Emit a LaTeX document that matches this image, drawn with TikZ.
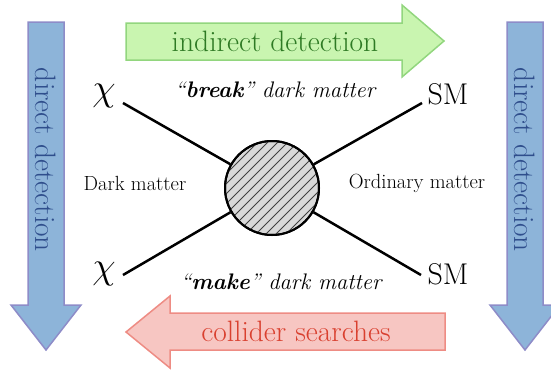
\documentclass[tikz,border=0pt]{standalone}
\usepackage{fix-cm}
\usepackage{fontspec}

\definecolor{ddfill}{HTML}{8DB4D9}
\definecolor{ddedge}{HTML}{8E8CC8}
\definecolor{ddtext}{HTML}{2F4E8C}
\definecolor{idfill}{HTML}{C9F5B0}
\definecolor{idedge}{HTML}{92D67E}
\definecolor{idtext}{HTML}{2E7A24}
\definecolor{csfill}{HTML}{F7C6C2}
\definecolor{csedge}{HTML}{EE8C84}
\definecolor{cstext}{HTML}{D9402F}

\begin{document}
\begin{tikzpicture}[x=1pt,y=-1pt,
  blockarrow/.style={line width=1.5pt},
  leg/.style={line width=2.5pt},
  bigtext/.style={font=\fontsize{29.5}{29.5}\selectfont},
  midtext/.style={font=\fontsize{20.5}{20.5}\selectfont},
  proctext/.style={font=\fontsize{22.5}{22.5}\selectfont\itshape},
  particle/.style={font=\fontsize{30}{30}\selectfont}]
\useasboundingbox (0,0) rectangle (551,370);
\clip (0,0) rectangle (551,370);

% big arrows
\draw[blockarrow,draw=ddedge,fill=ddfill] (28,22)--(64,22)--(64,305)--(81,305)--(46,350)--(11,305)--(28,305)--cycle;
\draw[blockarrow,draw=ddedge,fill=ddfill] (507,22)--(543,22)--(543,305)--(560,305)--(525,350)--(490,305)--(507,305)--cycle;
\draw[blockarrow,draw=idedge,fill=idfill] (126,23)--(402,23)--(402,5)--(444,41)--(402,77)--(402,60)--(126,60)--cycle;
\draw[blockarrow,draw=csedge,fill=csfill] (445,313)--(170,313)--(170,296)--(126,332)--(170,368)--(170,350)--(445,350)--cycle;

\node[bigtext,ddtext,rotate=-90] (ddleft) at (46,160) {direct detection};
\node[bigtext,ddtext,rotate=-90] (ddright) at (525,160) {direct detection};
\node[bigtext,idtext] (indirect) at (275,41) {indirect detection};
\node[bigtext,cstext] (collider) at (296,331) {collider searches};

% the blob
\node[circle,draw,line width=2pt,minimum size=94pt,fill=gray!30] (blob) at (272,188) {};
\coordinate (la) at (123,103);
\coordinate (lb) at (123,275);
\coordinate (ra) at (422,103);
\coordinate (rb) at (421,275);
\foreach \p in {la,lb,ra,rb}
  \draw[leg] (\p) -- (blob);
\begin{scope}
  \clip (blob.center) circle (47pt);
  \foreach \d in {-140,-130,...,140}
    \draw[line width=0.8pt,black!75] (272+\d-70,258) -- (272+\d+70,118);
\end{scope}
\draw[line width=2pt] (blob.center) circle (47pt);

\node[particle,font=\fontsize{38}{38}\selectfont] (chia) at (104,96) {$\chi$};
\node[particle,font=\fontsize{38}{38}\selectfont] (chib) at (104,274) {$\chi$};
\node[particle] (sma) at (448,94) {SM};
\node[particle] (smb) at (448,274) {SM};

\node[midtext] (dm) at (135,183) {Dark matter};
\node[midtext] (om) at (417,183) {Ordinary matter};
\node[proctext] (brk) at (275,90) {“\textbf{break}” dark matter};
\node[proctext] (mk) at (281,282) {“\textbf{make}” dark matter};
\end{tikzpicture}
\end{document}
